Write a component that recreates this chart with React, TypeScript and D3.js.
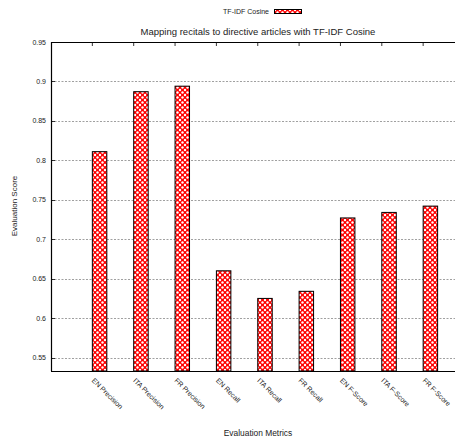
import React from "react";
import * as d3 from "d3";

const categories = [
  "EN Precision",
  "ITA Precision",
  "FR Precision",
  "EN Recall",
  "ITA Recall",
  "FR Recall",
  "EN F-Score",
  "ITA F-Score",
  "FR F-Score",
];
const values = [0.811, 0.887, 0.894, 0.66, 0.625, 0.634, 0.727, 0.734, 0.742];
const yTicks = [0.55, 0.6, 0.65, 0.7, 0.75, 0.8, 0.85, 0.9, 0.95];
const seriesName = "TF-IDF Cosine";
const title = "Mapping recitals to directive articles with TF-IDF Cosine";

const W = 455;
const H = 441;
const left = 51;
const top = 42;
const bottom = 371;
const unit = 41.35;

export default function App() {
  const x = d3.scaleLinear().domain([0, 1]).range([left, left + unit]);
  const y = d3.scaleLinear().domain([0.533, 0.95]).range([bottom, top]);
  const barW = x(0.35) - x(0);
  const font = "Liberation Sans, Arial, sans-serif";
  const txt = "#222";

  return (
    <svg
      width={W}
      height={H}
      style={{ position: "absolute", left: 0, top: 0, background: "#fff" }}
      fontFamily={font}
    >
      <defs>
        <pattern id="hatch" width="5" height="5" patternUnits="userSpaceOnUse">
          <rect width="5" height="5" fill="#f00" />
          <circle cx="0" cy="0" r="1.2" fill="#fff" />
          <circle cx="5" cy="0" r="1.2" fill="#fff" />
          <circle cx="0" cy="5" r="1.2" fill="#fff" />
          <circle cx="5" cy="5" r="1.2" fill="#fff" />
          <circle cx="2.5" cy="2.5" r="1.2" fill="#fff" />
        </pattern>
      </defs>
      <rect width={W} height={H} fill="#fff" />

      {/* legend */}
      <text x={269} y={14} fontSize={7} textAnchor="end" fill={txt}>
        {seriesName}
      </text>
      <rect x={274.5} y={9.5} width={27} height={4} fill="url(#hatch)" stroke="#000" strokeWidth={1} />

      {/* title */}
      <text x={258} y={35} fontSize={9.5} textAnchor="middle" fill={txt}>
        {title}
      </text>

      {/* grid */}
      {yTicks.map((t) => (
        <g key={t}>
          {t < 0.95 && (
            <line
              x1={left}
              x2={W}
              y1={Math.round(y(t)) + 0.5}
              y2={Math.round(y(t)) + 0.5}
              stroke="#888"
              strokeWidth={0.8}
              strokeDasharray="2 1.5"
            />
          )}
          <line x1={left} x2={left + 4} y1={Math.round(y(t)) + 0.5} y2={Math.round(y(t)) + 0.5} stroke="#000" strokeWidth={0.8} />
          <text x={46} y={y(t) + 2.5} fontSize={7} textAnchor="end" fill={txt}>
            {String(t)}
          </text>
        </g>
      ))}

      {/* bars */}
      {values.map((v, i) => (
        <rect
          key={i}
          x={x(i + 1)}
          y={y(v)}
          width={barW}
          height={bottom - y(v)}
          fill="url(#hatch)"
          stroke="#000"
          strokeWidth={1}
        />
      ))}

      {/* top ticks */}
      {categories.map((c, i) => (
        <line key={c} x1={x(i + 1)} x2={x(i + 1)} y1={top} y2={top + 4} stroke="#000" strokeWidth={0.8} />
      ))}

      {/* border */}
      <line x1={left} x2={W} y1={top + 0.5} y2={top + 0.5} stroke="#000" strokeWidth={1.2} />
      <line x1={left + 0.5} x2={left + 0.5} y1={top} y2={bottom} stroke="#000" strokeWidth={1.2} />
      <line x1={left} x2={W} y1={bottom + 0.5} y2={bottom + 0.5} stroke="#000" strokeWidth={1.2} />

      {/* x tick labels */}
      {categories.map((c, i) => (
        <text
          key={c}
          transform={`translate(${x(i + 1) - 1},${bottom + 10}) rotate(45)`}
          fontSize={7}
          fill={txt}
        >
          {c}
        </text>
      ))}

      {/* axis labels */}
      <text x={258} y={436} fontSize={8.4} textAnchor="middle" fill={txt}>
        Evaluation Metrics
      </text>
      <text
        transform={`translate(17,206) rotate(-90)`}
        fontSize={8}
        textAnchor="middle"
        fill={txt}
      >
        Evaluation Score
      </text>
    </svg>
  );
}
